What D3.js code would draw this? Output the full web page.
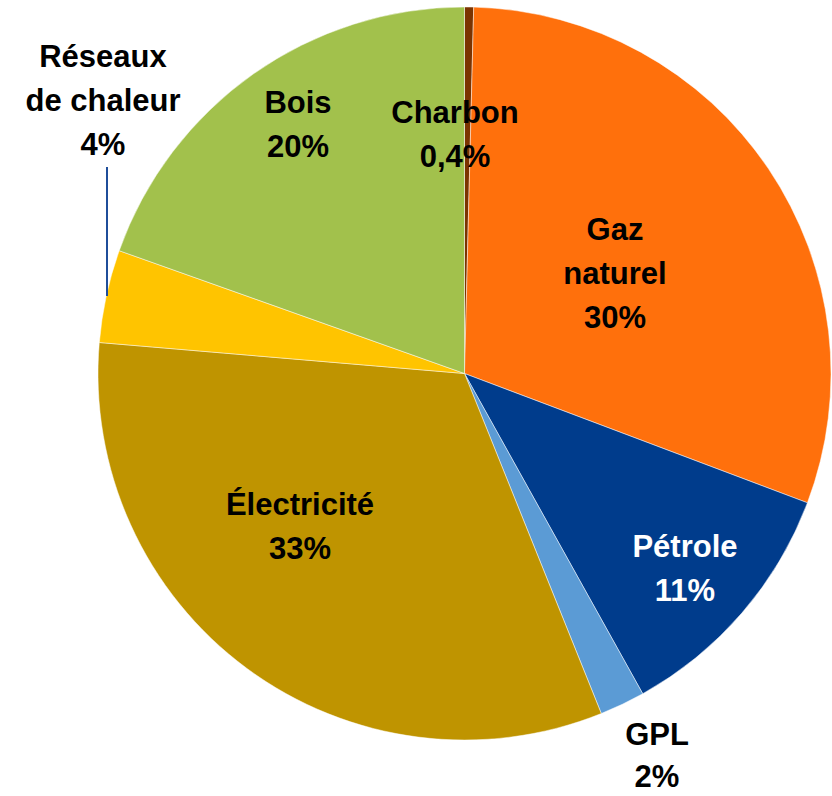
<!DOCTYPE html>
<html>
<head>
<meta charset="utf-8">
<script src="https://cdn.jsdelivr.net/npm/d3@7"></script>
<style>
  body { margin: 0; background: #fff; }
  svg text { font-family: "Liberation Sans Narrow", "Liberation Sans", sans-serif; font-weight: bold; }
</style>
</head>
<body>
<div id="chart"></div>
<script>
// Data (share of heating energy, %)
const labels = ["Charbon", "Gaz naturel", "Pétrole", "GPL", "Électricité", "Réseaux de chaleur", "Bois"];
const values = [0.4, 30.4, 11.2, 2.0, 32.5, 4.1, 19.6];
const shownPct = ["0,4%", "30%", "11%", "2%", "33%", "4%", "20%"];
const colors = ["#7b3300", "#ff700c", "#003c8c", "#5b9bd5", "#bf9400", "#ffc400", "#a2c14c"];

// label lines, split by hand as in the source
const labelLines = [
  ["Charbon"], ["Gaz", "naturel"], ["Pétrole"], ["GPL"], ["Électricité"], ["Réseaux", "de chaleur"], ["Bois"]
];
// label anchor (x centre, first baseline)
const labelPos = [
  [455, 123], [615, 240], [685, 557], [657, 745], [300, 515], [103, 67], [298, 113]
];
const textColors = ["#000", "#000", "#fff", "#000", "#000", "#000", "#000"];

const svgWidth = 832;
const svgHeight = 796;
const cx = 464.5, cy = 373.5, radius = 366.5;
const lineGap = 44;

const svg = d3.select("#chart")
  .append("svg")
  .attr("width", svgWidth)
  .attr("height", svgHeight);

const pieGroup = svg.append("g")
  .attr("transform", `translate(${cx}, ${cy})`);

const pie = d3.pie().sort(null).value(d => d);
const arc = d3.arc().innerRadius(0).outerRadius(radius);

pieGroup.selectAll("path")
  .data(pie(values))
  .enter()
  .append("path")
  .attr("d", arc)
  .attr("fill", (d, i) => colors[i])
  .attr("stroke", "#fff")
  .attr("stroke-opacity", 0.6)
  .attr("stroke-width", 0.8);

// leader line for Réseaux de chaleur
svg.append("line")
  .attr("x1", 107).attr("y1", 167)
  .attr("x2", 107).attr("y2", 296)
  .attr("stroke", "#1f4e9a")
  .attr("stroke-width", 2);

// labels
labels.forEach((name, i) => {
  const lines = labelLines[i].concat([shownPct[i]]);
  const t = svg.append("text")
    .attr("text-anchor", "middle")
    .attr("font-size", "31px")
    .attr("fill", textColors[i]);
  lines.forEach((ln, j) => {
    t.append("tspan")
      .attr("x", labelPos[i][0])
      .attr("y", labelPos[i][1] + j * (i === 3 ? 42 : lineGap))
      .text(ln);
  });
});
</script>
</body>
</html>
